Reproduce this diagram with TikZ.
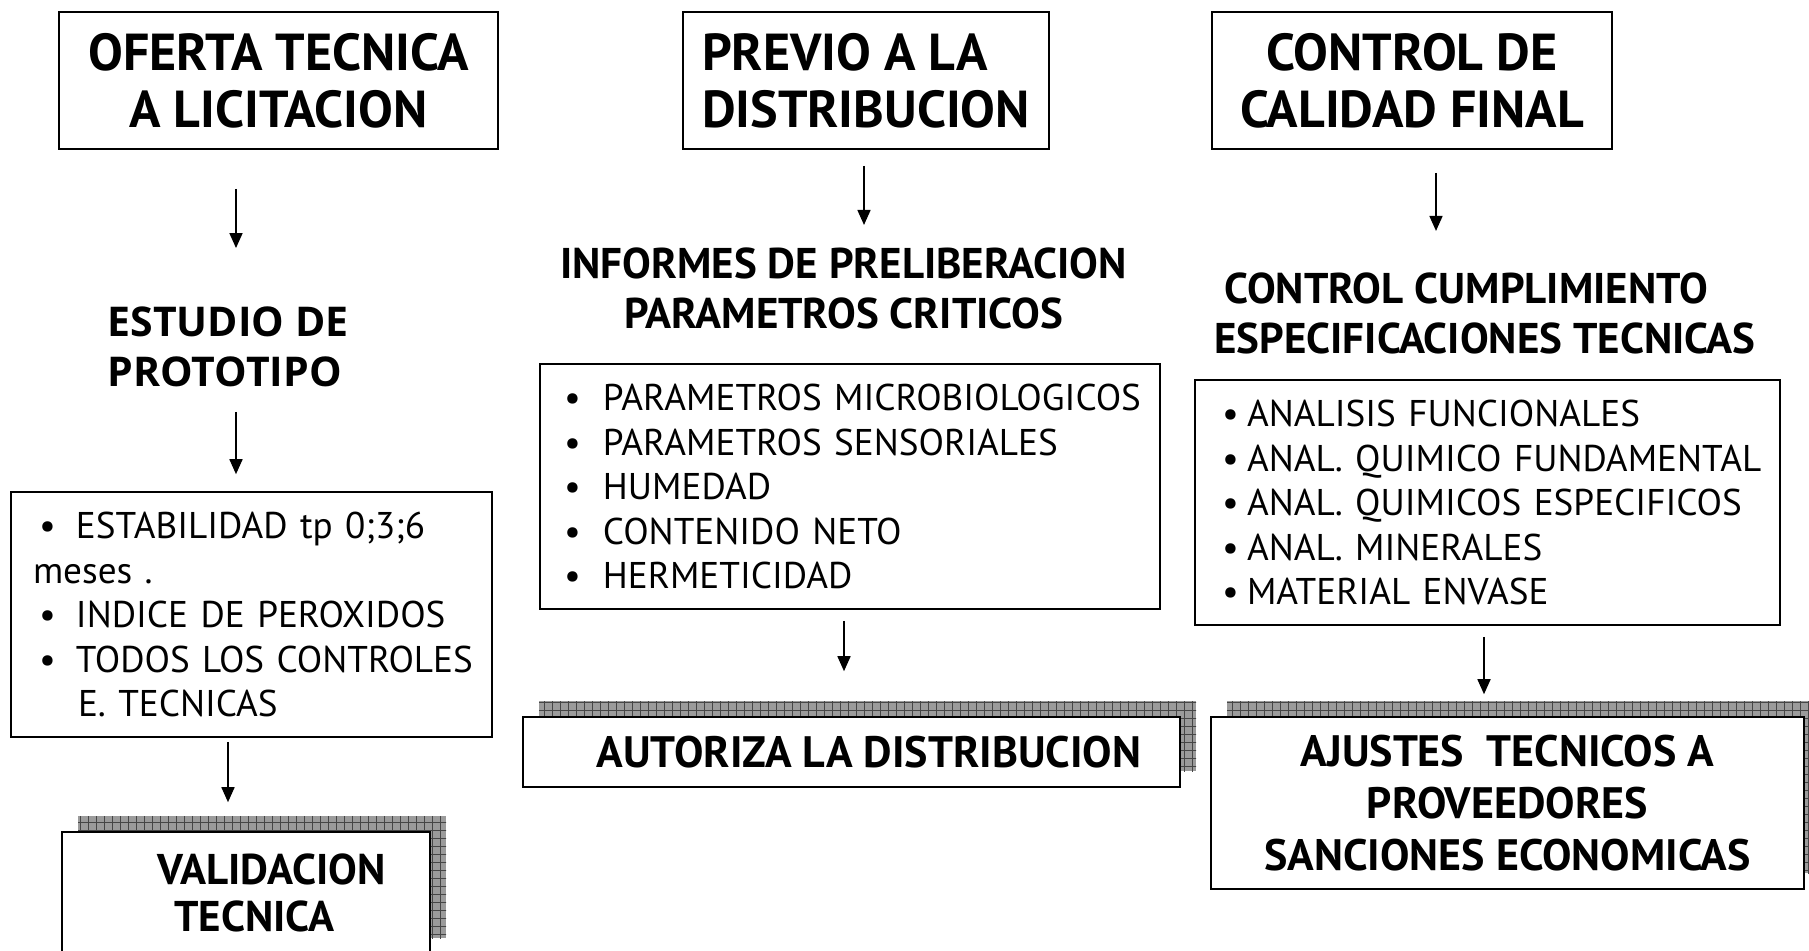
\documentclass[tikz,border=0pt]{standalone}
\usepackage{fontspec}
\setmainfont{PT Sans}
\newfontfamily\opensans{Open Sans}
\usepackage{tikz}
\usetikzlibrary{arrows.meta,patterns}
\usepackage{xcolor}
\definecolor{shadefill}{RGB}{155,155,155}
\definecolor{shadeline}{RGB}{70,70,70}

% bullet item that never breaks
\newcommand{\bul}[2]{\mbox{\makebox[#1][l]{\textbullet}#2}}
% chequered grid for the drop shadows
\pgfdeclarepatternformonly{shadegrid}{\pgfqpoint{-0.5pt}{-0.5pt}}{\pgfqpoint{4.5pt}{4.5pt}}{\pgfqpoint{4pt}{4pt}}{%
  \pgfsetlinewidth{0.4pt}
  \pgfpathmoveto{\pgfqpoint{0pt}{0pt}}\pgfpathlineto{\pgfqpoint{4pt}{0pt}}
  \pgfpathmoveto{\pgfqpoint{0pt}{0pt}}\pgfpathlineto{\pgfqpoint{0pt}{4pt}}
  \pgfusepath{stroke}}

\begin{document}
\begin{tikzpicture}[x=0.5pt, y=-0.5pt,
    titlebox/.style={draw, line width=0.8pt, inner sep=0pt, align=center, font=\fontsize{26}{28.5}\selectfont\bfseries},
    headtext/.style={inner sep=0pt, font=\fontsize{21.5}{25}\selectfont\bfseries},
    listbox/.style={draw, line width=0.8pt, inner ysep=0pt, align=left, minimum height=122.5pt, font=\fontsize{18.6}{22.25}\selectfont},
    resultbox/.style={draw, fill=white, line width=0.8pt, inner sep=0pt, align=center, font=\fontsize{22}{26}\selectfont\bfseries,
        preaction={fill=shadefill, transform canvas={shift={(8pt,8pt)}}},
        preaction={pattern=shadegrid, pattern color=shadeline, transform canvas={shift={(8pt,8pt)}}}},
    flow/.style={-{Triangle[length=7.5pt, width=6.5pt]}, line width=0.8pt}]
    \useasboundingbox (0,0) rectangle (1809,950);
    % top row
    \node[titlebox, minimum width=219.5pt, minimum height=68.5pt] (oferta) at (278.5,80.5) {OFERTA TECNICA\\A LICITACION};
    \node[titlebox, align=left, minimum width=183pt, minimum height=68.5pt] (previo) at (866,80.5) {PREVIO A LA\\DISTRIBUCION};
    \node[titlebox, minimum width=200pt, minimum height=68.5pt] (calidad) at (1412,80.5) {CONTROL DE\\CALIDAD FINAL};
    % headings
    \node[headtext, align=left, font=\opensans\fontsize{20.5}{25}\selectfont\bfseries] (estudio) at (228,346.5) {ESTUDIO DE\\PROTOTIPO};
    \node[headtext, align=center] (informes) at (843.5,288) {INFORMES DE PRELIBERACION\\PARAMETROS CRITICOS};
    \node[headtext, align=left] (cumple) at (1485,313) {\hspace*{5pt}CONTROL CUMPLIMIENTO\\ESPECIFICACIONES TECNICAS};
    % lists
    \node[listbox, minimum width=240.5pt, inner xsep=11pt, text width=218.5pt] (estab) at (251.5,614.5) {%
        \hspace*{3pt}\bul{18.5pt}{ESTABILIDAD tp 0;3;6}\\
        meses .\\
        \hspace*{3pt}\bul{18.5pt}{INDICE DE PEROXIDOS}\\
        \hspace*{3pt}\bul{18.5pt}{TODOS LOS CONTROLES}\\
        \hspace*{22.5pt}E. TECNICAS};
    \node[listbox, minimum width=310pt, inner xsep=12pt, text width=286pt] (param) at (850,486.5) {%
        \bul{19.5pt}{PARAMETROS MICROBIOLOGICOS}\\
        \bul{19.5pt}{PARAMETROS SENSORIALES}\\
        \bul{19.5pt}{HUMEDAD}\\
        \bul{19.5pt}{CONTENIDO NETO}\\
        \bul{19.5pt}{HERMETICIDAD}};
    \node[listbox, minimum width=292.5pt, inner xsep=13.5pt, text width=265.5pt] (spec) at (1487.5,502.5) {%
        \bul{12.5pt}{ANALISIS FUNCIONALES}\\
        \bul{12.5pt}{ANAL. QUIMICO FUNDAMENTAL}\\
        \bul{12.5pt}{ANAL. QUIMICOS ESPECIFICOS}\\
        \bul{12.5pt}{ANAL. MINERALES}\\
        \bul{12.5pt}{MATERIAL ENVASE}};
    % results with shadow
    \node[resultbox, align=left, minimum width=184pt, minimum height=61pt, font=\fontsize{21.5}{23.5}\selectfont\bfseries] (valida) at (246,893) {\hspace*{25.5pt}VALIDACION\\\hspace*{34pt}TECNICA};
    \node[resultbox, minimum width=328.5pt, minimum height=35pt] (autoriza) at (851.5,752) {\hspace*{17.5pt}AUTORIZA LA DISTRIBUCION};
    \node[resultbox, minimum width=296.5pt, minimum height=86pt] (ajustes) at (1507.5,803) {AJUSTES\ \ TECNICOS A\\PROVEEDORES\\SANCIONES ECONOMICAS};
    % arrows
    \draw[flow] ([shift={(-42.5,39)}]oferta.south) -- ([shift={(8,-58)}]estudio.north);
    \draw[flow] ([shift={(8,25)}]estudio.south) -- ([shift={(-15.5,-17)}]estab.north);
    \draw[flow] ([shift={(-23.5,4)}]estab.south) -- ([shift={(-18,-29)}]valida.north);
    \draw[flow] ([shift={(-2,16)}]previo.south) -- ([shift={(20.5,-22)}]informes.north);
    \draw[flow] ([shift={(-6,11)}]param.south) -- ([shift={(-7.5,-45)}]autoriza.north);
    \draw[flow] ([shift={(24,23)}]calidad.south) -- ([shift={(-49,-41)}]cumple.north);
    \draw[flow] ([shift={(-3.5,11)}]spec.south) -- ([shift={(-23.5,-22)}]ajustes.north);
\end{tikzpicture}
\end{document}
